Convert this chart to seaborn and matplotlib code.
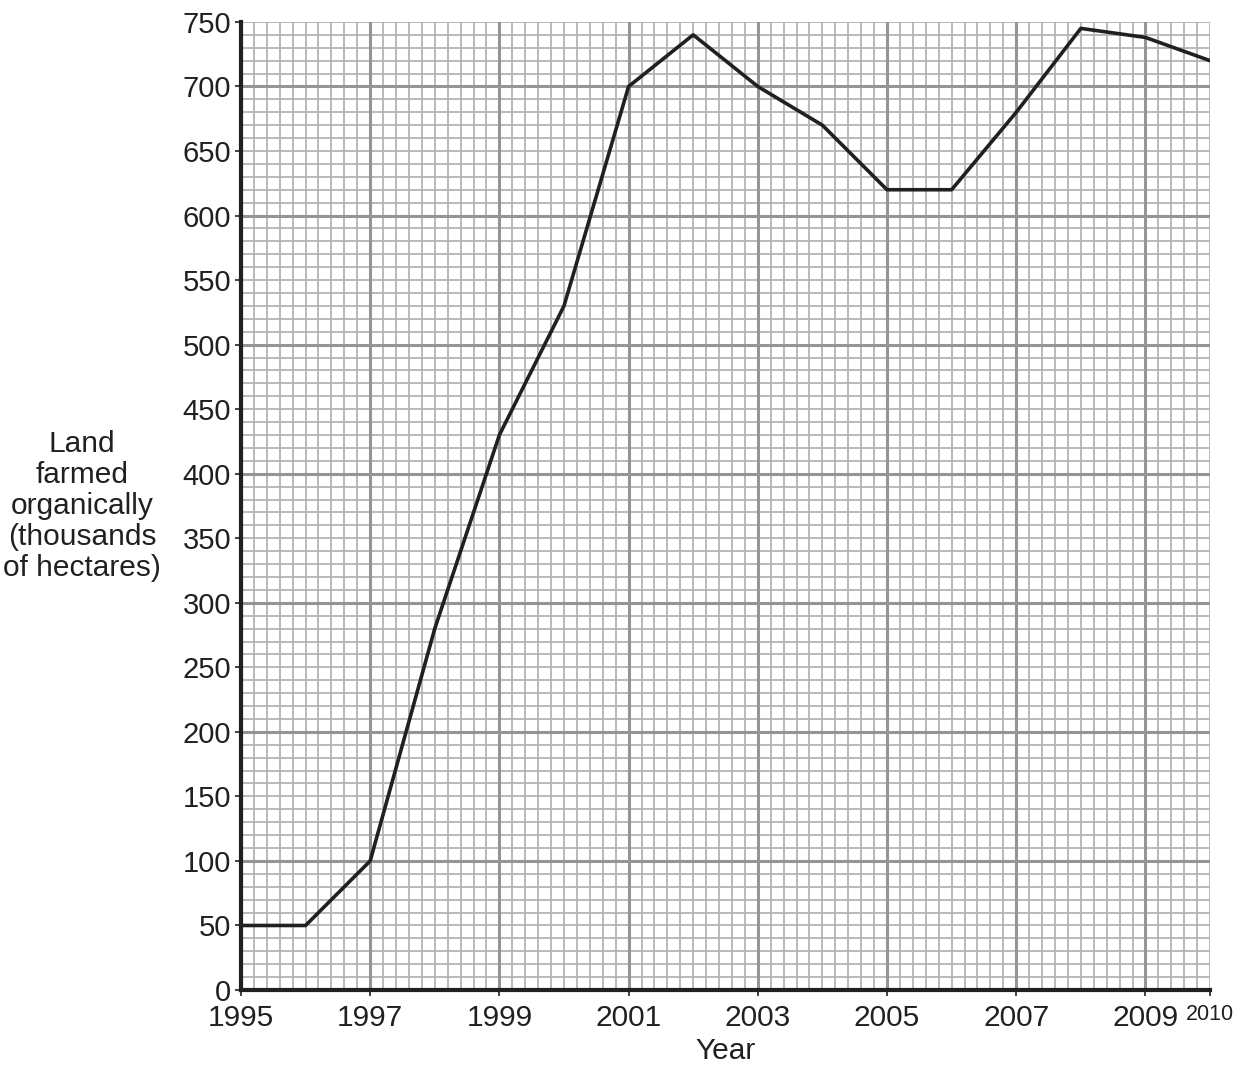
import numpy as np
import pandas as pd
import seaborn as sns
import matplotlib.pyplot as plt

years = [1995, 1996, 1997, 1998, 1999, 2000, 2001, 2002,
         2003, 2004, 2005, 2006, 2007, 2008, 2009, 2010]
land = [50, 50, 100, 280, 430, 530, 700, 740,
        700, 670, 620, 620, 680, 745, 738, 720]
x_labels = ['1995', '1997', '1999', '2001', '2003', '2005', '2007', '2009', '2010']
x_ticks = [1995, 1997, 1999, 2001, 2003, 2005, 2007, 2009, 2010]
y_ticks = list(range(0, 751, 50))

sns.set_theme(style='white')
plt.rcParams['font.family'] = ['Liberation Sans', 'DejaVu Sans']

df = pd.DataFrame({'year': years, 'land': land})

fig = plt.figure(figsize=(12.44, 10.65), dpi=100)
ax = fig.add_axes([0.1937, 0.0704, 0.779, 0.909])

# graph paper grid: fine lines every 0.2 yr / 10 units, heavier every 2 yr / 100
for xv in np.arange(1995, 2010.01, 0.2):
    ax.axvline(xv, color='#b4b4b6', lw=1.3, zorder=1)
for yv in range(0, 751, 10):
    ax.axhline(yv, color='#b4b4b6', lw=1.3, zorder=1)
for xv in range(1995, 2011, 2):
    ax.axvline(xv, color='#939598', lw=2.2, zorder=1)
for yv in range(0, 751, 100):
    ax.axhline(yv, color='#939598', lw=2.2, zorder=1)

sns.lineplot(data=df, x='year', y='land', ax=ax, color='#231f20',
             linewidth=2.6, zorder=3)

ax.set_xlim(1995, 2010)
ax.set_ylim(0, 750)
ax.set_xticks(x_ticks)
ax.set_xticklabels(x_labels, fontsize=21.5)
ax.get_xticklabels()[-1].set_fontsize(15.5)
ax.set_yticks(y_ticks)
ax.set_yticklabels([str(v) for v in y_ticks], fontsize=21)
ax.tick_params(axis='both', direction='out', length=4, width=1.2,
               color='#231f20', labelcolor='#231f20',
               bottom=True, left=True)
ax.tick_params(axis='x', pad=6)
ax.tick_params(axis='y', pad=3)

for side in ['top', 'right']:
    ax.spines[side].set_visible(False)
for side in ['left', 'bottom']:
    ax.spines[side].set_color('#231f20')
    ax.spines[side].set_linewidth(3)
    ax.spines[side].set_zorder(4)

ax.set_xlabel('Year', fontsize=21.5, color='#231f20', labelpad=4)
ax.set_ylabel('Land\nfarmed\norganically\n(thousands\nof hectares)',
              fontsize=21.5, color='#231f20', rotation=0, ha='center',
              va='center', multialignment='center', linespacing=1.13)
ax.yaxis.set_label_coords(-0.164, 0.50)

fig.savefig('out.png', dpi=100)
